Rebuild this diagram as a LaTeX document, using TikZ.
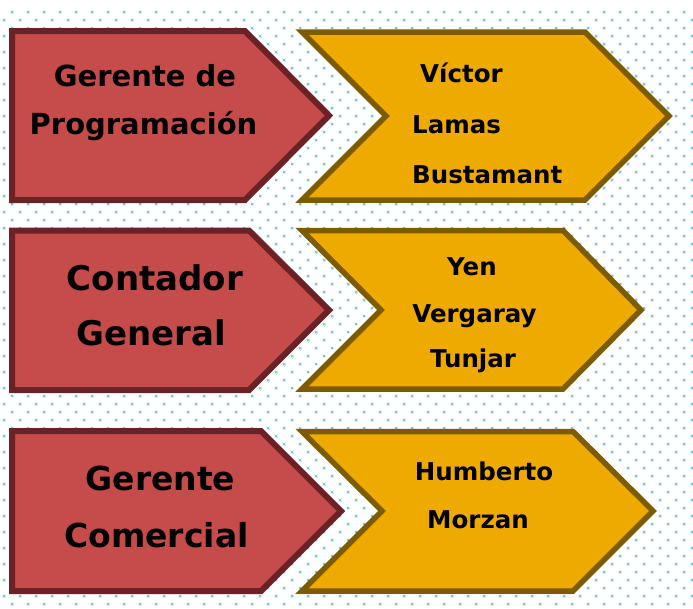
\documentclass[tikz,border=0pt]{standalone}
\usepackage{fontspec}
\setmainfont{DejaVu Sans}
\definecolor{redfill}{HTML}{C64B4B}
\definecolor{redline}{HTML}{6B2226}
\definecolor{yelfill}{HTML}{EFAA00}
\definecolor{yelline}{HTML}{7D5B00}
\definecolor{dotc}{HTML}{7CC4DA}
\tikzset{
  redshape/.style={fill=redfill, draw=redline, line width=6pt, line join=miter},
  yelshape/.style={fill=yelfill, draw=yelline, line width=5.5pt, line join=miter},
  redtxt/.style={anchor=base, inner sep=0pt, font=\bfseries\fontsize{#1}{#1}\selectfont},
  yeltxt/.style={anchor=base, inner sep=0pt, font=\bfseries\fontsize{24.5}{24.5}\selectfont},
  yeltxtw/.style={anchor=base west, inner sep=0pt, font=\bfseries\fontsize{24.5}{24.5}\selectfont}
}
\begin{document}
\begin{tikzpicture}[x=1pt,y=-1pt]
\useasboundingbox (0,0) rectangle (693,608);
\fill[white] (0,0) rectangle (693,608);
% dotted background
\fill[dotc] \foreach \m in {0,...,37} { \foreach \n in {0,...,42} { ({12+16*\n-1.25},{12+16*\m-1.25}) rectangle ++(2.5,2.5) } };
\fill[dotc] \foreach \m in {0,...,36} { \foreach \n in {0,...,43} { ({4+16*\n-1.25},{20+16*\m-1.25}) rectangle ++(2.5,2.5) } };
% row 1
\draw[redshape] (12,31) -- (245,31) -- (329,115.5) -- (245,200) -- (12,200) -- cycle;
\draw[yelshape] (302,32) -- (585,32) -- (669,116) -- (585,200) -- (302,200) -- (386,116) -- cycle;
% row 2
\draw[redshape] (12,230.5) -- (249,230.5) -- (329,310) -- (249,390) -- (12,390) -- cycle;
\draw[yelshape] (302,230.5) -- (563,230.5) -- (641,310) -- (563,389) -- (302,389) -- (381,310) -- cycle;
% row 3
\draw[redshape] (12,431) -- (261,431) -- (341,511) -- (261,591) -- (12,591) -- cycle;
\draw[yelshape] (302,431.5) -- (573,431.5) -- (653,511) -- (573,591) -- (302,591) -- (382,511) -- cycle;
% red labels
\node[redtxt=29] (r1a) at (145,86) {Gerente de};
\node[redtxt=29] (r1b) at (143.5,134) {Programación};
\node[redtxt=34] (r2a) at (155,290) {Contador};
\node[redtxt=34] (r2b) at (151,345) {General};
\node[redtxt=33] (r3a) at (160.5,490) {Gerente};
\node[redtxt=33] (r3b) at (156.5,547) {Comercial};
% yellow labels
\node[yeltxtw] (y1a) at (420,82) {Víctor};
\node[yeltxtw] (y1b) at (412,133) {Lamas};
\node[yeltxtw] (y1c) at (412,183) {Bustamant};
\node[yeltxt] (y2a) at (472,275) {Yen};
\node[yeltxt] (y2b) at (474.5,322) {Vergaray};
\node[yeltxt] (y2c) at (473,367) {Tunjar};
\node[yeltxt] (y3a) at (484,480) {Humberto};
\node[yeltxt] (y3b) at (478,528) {Morzan};
\end{tikzpicture}
\end{document}
